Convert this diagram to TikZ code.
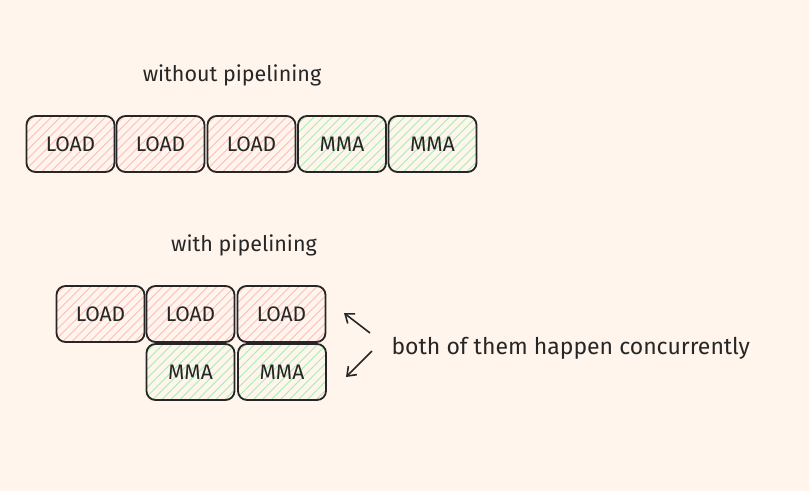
\documentclass[tikz,border=0pt]{standalone}
\usepackage{fontspec}
\setmainfont{Fira Sans}
\definecolor{bg}{HTML}{FFF5EC}
\definecolor{hr}{HTML}{FFBDBD}
\definecolor{hg}{HTML}{A5EDB0}
\tikzset{
 hatch/.style={path picture={\foreach \i in {-120,-111,...,120}{\draw[#1,line width=1pt] ([xshift=\i pt]path picture bounding box.south west) -- ++(80pt,80pt);}}},
 blk/.style={draw=black!85,line width=1.8pt,rounded corners=9pt,minimum width=88pt,minimum height=56pt,inner sep=0pt,font=\fontsize{21}{24}\selectfont,text=black!85},
 ld/.style={blk,hatch=hr},
 mm/.style={blk,hatch=hg},
 lbl/.style={font=\fontsize{21.5}{26}\selectfont,text=black!85},
 arr/.style={-{Straight Barb[length=8pt,width=12pt,line width=1.6pt]},line width=1.6pt,black!85}
}
\usetikzlibrary{arrows.meta}
\begin{document}
\begin{tikzpicture}[x=1pt,y=-1pt]
\fill[bg] (0,0) rectangle (809,491);
\node[lbl] (t1) at (232,75) {without pipelining};
\node[ld] (a1) at (70.5,144) {LOAD};
\node[ld] (a2) at (160.5,144) {LOAD};
\node[ld] (a3) at (251.5,144) {LOAD};
\node[mm] (a4) at (342,144) {MMA};
\node[mm] (a5) at (432.5,144) {MMA};
\node[lbl] (t2) at (244,245) {with pipelining};
\node[ld] (b1) at (100.5,314) {LOAD};
\node[ld] (b2) at (190.5,314) {LOAD};
\node[ld] (b3) at (281.5,314) {LOAD};
\node[mm] (c1) at (190.5,372) {MMA};
\node[mm] (c2) at (282,372) {MMA};
\node[lbl,font=\fontsize{23}{28}\selectfont,anchor=west] (t3) at (388,348) {both of them happen concurrently};
\coordinate (s1) at (370,333);
\coordinate (s2) at (372,351);
\draw[arr] (s1) -- (344,313);
\draw[arr] (s2) -- (346,377);
\end{tikzpicture}
\end{document}
